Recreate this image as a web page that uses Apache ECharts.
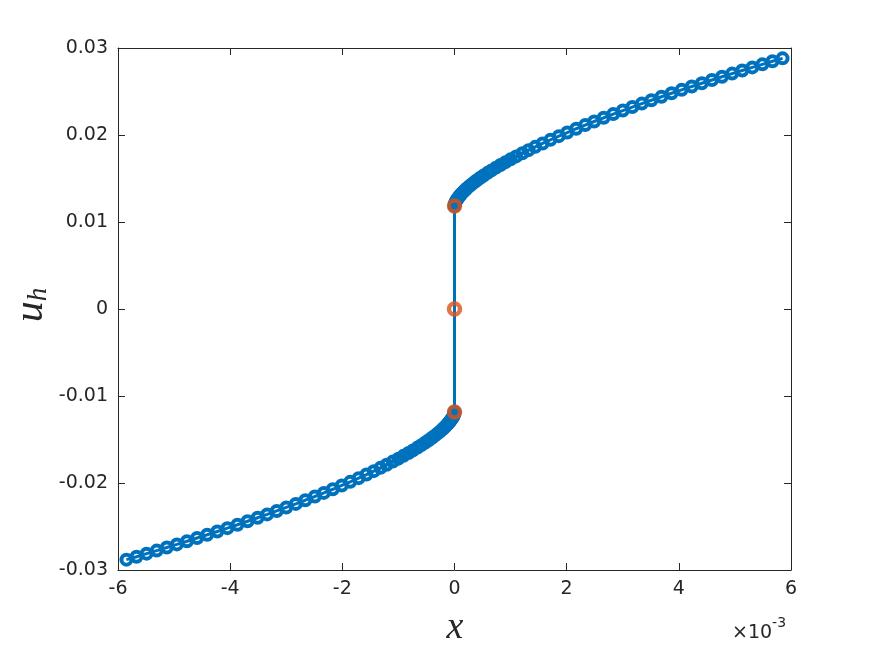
<!DOCTYPE html>
<html>
<head>
<meta charset="utf-8">
<script src="https://cdn.jsdelivr.net/npm/echarts@6/dist/echarts.min.js"></script>
<style>
  html, body { margin: 0; padding: 0; background: #fff; }
  #uhChart { width: 875px; height: 656px; }
</style>
</head>
<body>
<div id="uhChart"></div>
<script>
// x in units of 1e-3
const xLeft = [-5.85, -5.67, -5.49, -5.31, -5.13, -4.95, -4.77, -4.59, -4.41, -4.23, -4.05, -3.87, -3.69, -3.51, -3.34, -3.17, -3.00, -2.83, -2.66, -2.49, -2.33, -2.17, -2.01, -1.86, -1.71, -1.57, -1.44, -1.32, -1.21, -1.10, -1.00, -0.91, -0.82, -0.74, -0.66, -0.59, -0.52, -0.46, -0.40, -0.35, -0.30, -0.26, -0.22, -0.19, -0.16, -0.13, -0.11, -0.09, -0.07, -0.055, -0.04, -0.03, -0.02, -0.012, -0.006, -0.002, 0]
const uLeft = [-0.02881, -0.02847, -0.02812, -0.02777, -0.02742, -0.02706, -0.02669, -0.02632, -0.02595, -0.02557, -0.02519, -0.02480, -0.02440, -0.02399, -0.02361, -0.02321, -0.02281, -0.02240, -0.02198, -0.02155, -0.02114, -0.02072, -0.02028, -0.01987, -0.01944, -0.01903, -0.01864, -0.01826, -0.01791, -0.01754, -0.01720, -0.01688, -0.01655, -0.01625, -0.01593, -0.01565, -0.01535, -0.01508, -0.01480, -0.01456, -0.01430, -0.01409, -0.01386, -0.01368, -0.01349, -0.01329, -0.01314, -0.01299, -0.01282, -0.01269, -0.01254, -0.01243, -0.01231, -0.01219, -0.01208, -0.01199, -0.01184]
const xRight = [0, 0.002, 0.006, 0.012, 0.02, 0.03, 0.04, 0.055, 0.07, 0.09, 0.11, 0.13, 0.16, 0.19, 0.22, 0.26, 0.30, 0.35, 0.40, 0.46, 0.52, 0.59, 0.66, 0.74, 0.82, 0.91, 1.00, 1.10, 1.21, 1.32, 1.44, 1.57, 1.71, 1.86, 2.01, 2.17, 2.33, 2.49, 2.66, 2.83, 3.00, 3.17, 3.34, 3.51, 3.69, 3.87, 4.05, 4.23, 4.41, 4.59, 4.77, 4.95, 5.13, 5.31, 5.49, 5.67, 5.85]
const uRight = [0.01184, 0.01199, 0.01208, 0.01219, 0.01231, 0.01243, 0.01254, 0.01269, 0.01282, 0.01299, 0.01314, 0.01329, 0.01349, 0.01368, 0.01386, 0.01409, 0.01430, 0.01456, 0.01480, 0.01508, 0.01535, 0.01565, 0.01593, 0.01625, 0.01655, 0.01688, 0.01720, 0.01754, 0.01791, 0.01826, 0.01864, 0.01903, 0.01944, 0.01987, 0.02028, 0.02072, 0.02114, 0.02155, 0.02198, 0.02240, 0.02281, 0.02321, 0.02361, 0.02399, 0.02440, 0.02480, 0.02519, 0.02557, 0.02595, 0.02632, 0.02669, 0.02706, 0.02742, 0.02777, 0.02812, 0.02847, 0.02881]
// red jump points at x = 0
const xJump = [0, 0, 0]
const uJump = [-0.01184, 0, 0.01184]

const xTicks = [-6, -4, -2, 0, 2, 4, 6]
const yTicks = [-0.03, -0.02, -0.01, 0, 0.01, 0.02, 0.03]

const blueData = xLeft.map((x, i) => [x, uLeft[i]]).concat(xRight.map((x, i) => [x, uRight[i]]))
const redData = xJump.map((x, i) => [x, uJump[i]])

const axisColor = '#262626'
const labelFont = { color: axisColor, fontSize: 19, fontFamily: 'DejaVu Sans' }

const baseAxis = {
  type: 'value',
  axisLine: { show: true, onZero: false, lineStyle: { color: axisColor, width: 1 } },
  axisTick: { show: true, inside: true, length: 7, lineStyle: { color: axisColor } },
  splitLine: { show: false }
}

const option = {
  animation: false,
  grid: { left: 118, right: 84, top: 48, bottom: 86 },
  xAxis: [
    Object.assign({}, baseAxis, {
      position: 'bottom',
      min: xTicks[0],
      max: xTicks[xTicks.length - 1],
      interval: 2,
      axisLabel: Object.assign({ margin: 10, formatter: v => String(v) }, labelFont)
    }),
    Object.assign({}, baseAxis, {
      position: 'top',
      min: xTicks[0],
      max: xTicks[xTicks.length - 1],
      interval: 2,
      axisLabel: { show: false }
    })
  ],
  yAxis: [
    Object.assign({}, baseAxis, {
      position: 'left',
      min: yTicks[0],
      max: yTicks[yTicks.length - 1],
      interval: 0.01,
      axisLabel: Object.assign({ margin: 10, formatter: v => String(Math.round(v * 100) / 100) }, labelFont)
    }),
    Object.assign({}, baseAxis, {
      position: 'right',
      min: yTicks[0],
      max: yTicks[yTicks.length - 1],
      interval: 0.01,
      axisLabel: { show: false }
    })
  ],
  graphic: [
    {
      type: 'text',
      x: 455,
      y: 628,
      style: {
        text: 'x',
        font: 'italic 38px "Liberation Serif"',
        fill: axisColor,
        align: 'center',
        verticalAlign: 'middle'
      }
    },
    {
      type: 'text',
      x: 31,
      y: 305,
      rotation: Math.PI / 2,
      style: {
        text: '{a|u}{b|h}',
        align: 'center',
        verticalAlign: 'middle',
        rich: {
          a: { font: 'italic 42px "Liberation Serif"', fill: axisColor },
          b: { font: 'italic 27px "Liberation Serif"', fill: axisColor, verticalAlign: 'bottom', padding: [14, 0, 0, 0] }
        }
      }
    },
    {
      type: 'text',
      x: 732,
      y: 616,
      style: {
        text: '{a|×10}{b|-3}',
        rich: {
          a: { font: '19px "DejaVu Sans"', fill: axisColor, padding: [8, 0, 0, 0] },
          b: { font: '14px "DejaVu Sans"', fill: axisColor, verticalAlign: 'top' }
        }
      }
    }
  ],
  series: [
    {
      type: 'line',
      data: blueData,
      symbol: 'circle',
      symbolSize: 10,
      showSymbol: true,
      lineStyle: { color: '#0072BD', width: 3 },
      itemStyle: { color: 'rgba(255,255,255,0)', borderColor: '#0072BD', borderWidth: 4 },
      z: 2
    },
    {
      type: 'scatter',
      data: redData,
      symbol: 'circle',
      symbolSize: 11,
      itemStyle: { color: 'rgba(255,255,255,0)', borderColor: '#D95319', borderWidth: 4.5 },
      z: 3
    }
  ]
}

const myChart = echarts.init(document.getElementById('uhChart'))
myChart.setOption(option)
</script>
</body>
</html>
